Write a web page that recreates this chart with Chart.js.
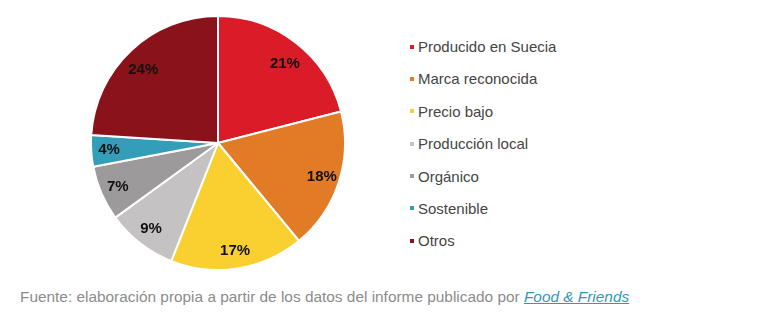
<!DOCTYPE html>
<html>
<head>
<meta charset="utf-8">
<script src="https://cdn.jsdelivr.net/npm/chart.js@4"></script>
<style>
  body { margin: 0; background: #fff; width: 760px; height: 323px; overflow: hidden; position: relative; font-family: Arial, "Liberation Sans", sans-serif; }
  #pieWrap { position: absolute; left: 90px; top: 15px; width: 256px; height: 256px; }
  #legend { position: absolute; left: 410px; top: 36px; margin: 0; padding: 0; list-style: none; }
  #legend li { height: 32.4px; line-height: 22px; font-size: 15px; color: #454545; white-space: nowrap; }
  #legend span.box { display: inline-block; width: 4px; height: 4px; margin: 0 4px 3px 0; vertical-align: middle; }
  #fuente { position: absolute; left: 20px; top: 288px; font-size: 15.4px; color: #8c8c8c; white-space: nowrap; }
  #fuente a { color: #2f9ab4; font-style: italic; text-decoration: underline; }
</style>
</head>
<body>
<div id="pieWrap"><canvas id="grafica"></canvas></div>
<ul id="legend"></ul>
<div id="fuente">Fuente: elaboración propia a partir de los datos del informe publicado por <a href="#">Food &amp; Friends</a></div>
<script>
// datos
var categorias = ['Producido en Suecia', 'Marca reconocida', 'Precio bajo', 'Producción local', 'Orgánico', 'Sostenible', 'Otros'];
var porcentajes = [21, 18, 17, 9, 7, 4, 24];
var colores = ['#d91c28', '#e27b26', '#f9d030', '#c5c2c3', '#9d9a9c', '#349db8', '#8a121b'];

// etiquetas dentro de cada porcion (las de arriba algo mas abajo, como en el original)
var etiquetas = {
  id: 'etiquetas',
  afterDatasetsDraw: function(chart) {
    var ctx = chart.ctx;
    var meta = chart.getDatasetMeta(0);
    ctx.save();
    ctx.font = 'bold 15px Arial, "Liberation Sans", sans-serif';
    ctx.fillStyle = '#111111';
    ctx.textAlign = 'center';
    ctx.textBaseline = 'middle';
    meta.data.forEach(function(arc, i) {
      var p = arc.getProps(['x', 'y', 'startAngle', 'endAngle', 'outerRadius'], true);
      var a = (p.startAngle + p.endAngle) / 2;
      var r = p.outerRadius * 0.86;
      var dy = Math.max(0, -Math.sin(a)) * 9;
      ctx.fillText(porcentajes[i] + '%', p.x + Math.cos(a) * r, p.y + Math.sin(a) * r + dy);
    });
    ctx.restore();
  }
};

const chart = new Chart(
  document.getElementById('grafica'),
  {
    type: 'pie',
    data: {
      labels: categorias,
      datasets: [
        {
          data: porcentajes,
          backgroundColor: colores,
          borderColor: '#ffffff',
          borderWidth: 2
        }
      ]
    },
    options: {
      responsive: true,
      maintainAspectRatio: false,
      animation: false,
      layout: { padding: 0 },
      plugins: {
        legend: { display: false },
        tooltip: { enabled: false }
      }
    },
    plugins: [etiquetas]
  }
);

// leyenda
var ul = document.getElementById('legend');
categorias.forEach(function(c, i) {
  var li = document.createElement('li');
  li.innerHTML = '<span class="box" style="background:' + colores[i] + '"></span>' + c;
  ul.appendChild(li);
});
</script>
</body>
</html>
